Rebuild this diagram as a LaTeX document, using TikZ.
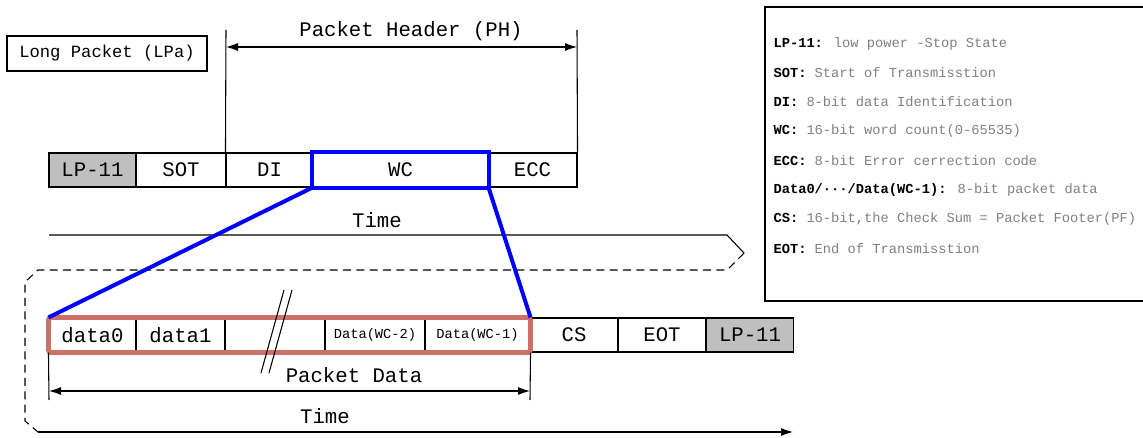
\documentclass[tikz,border=0pt]{standalone}
\usepackage{fontspec}
\setmainfont{Liberation Mono}
\usetikzlibrary{arrows.meta}
\newcommand{\pxu}{0.75pt}
\definecolor{pdred}{RGB}{204,112,104}
\definecolor{legendgray}{RGB}{128,128,128}
\begin{document}
\begin{tikzpicture}[x=0.75pt,y=-0.75pt,line width=0.8pt,
        every node/.style={font=\fontsize{15.5}{18}\selectfont},
        cell/.style={draw,inner sep=0pt,minimum height=34*\pxu},
        lpcell/.style={cell,fill=gray!50},
        small/.style={font=\fontsize{10.3}{12}\selectfont},
        bluebox/.style={draw=blue,line width=3pt},
        redbox/.style={draw=pdred,line width=3.6pt,rounded corners=2pt},
        tip/.style={-{Latex[length=9pt,width=6pt]}},
        dimarrow/.style={{Latex[length=9pt,width=6pt]}-{Latex[length=9pt,width=6pt]}},
        legend/.style={anchor=west,inner sep=0pt,small}]
    \useasboundingbox (0,0) rectangle (1143,438);

    % title box
    \node[draw,inner sep=0pt,minimum width=200*\pxu,minimum height=35*\pxu,font=\fontsize{12.9}{15}\selectfont] (lpa) at (107,53.5) {Long Packet (LPa)};

    % packet header row
    \node[lpcell,minimum width=87*\pxu] (lp1) at (92.5,170) {LP-11};
    \node[cell,minimum width=90*\pxu] (sot) at (181,170) {SOT};
    \node[cell,minimum width=87*\pxu] (di) at (269.5,170) {DI};
    \node[cell,minimum width=175*\pxu] (wc) at (400.5,170) {WC};
    \node[cell,minimum width=89*\pxu] (ecc) at (532.5,170) {ECC};

    \coordinate (phl) at (226,30);
    \coordinate (phr) at (577,30);
    \coordinate (pha) at (226,47);
    \coordinate (phb) at (577,47);
    \draw (phl) -- (di.north west);
    \draw (phr) -- (ecc.north east);
    \draw[dimarrow] (pha) -- (phb);
    \node (phlabel) at (411,31) {Packet Header (PH)};

    % time arrow
    \coordinate (t1) at (49,235);
    \coordinate (t2) at (727,235);
    \coordinate (t3) at (744,253);
    \coordinate (t4) at (727,270);
    \coordinate (t5) at (38,270);
    \coordinate (t6) at (25,282);
    \coordinate (t7) at (25,421);
    \coordinate (t8) at (38,432);
    \coordinate (t9) at (793,432);
    \draw (t1) -- (t2) -- (t3);
    \draw[dash pattern=on 6pt off 4pt] (t3) -- (t4) -- (t5) -- (t6) -- (t7) -- (t8);
    \draw[tip] (t8) -- (t9);
    \node (time1) at (377,220) {Time};
    \node (time2) at (325,416) {Time};

    % packet data row
    \node[cell,minimum width=87*\pxu] (d0) at (92.5,335) {data0};
    \node[cell,minimum width=89*\pxu] (d1) at (180.5,335) {data1};
    \node[cell,minimum width=100*\pxu] (dgap) at (275,335) {};
    \node[cell,minimum width=100*\pxu,small] (dwc2) at (375,335) {Data(WC-2)};
    \node[cell,minimum width=105*\pxu,small] (dwc1) at (477.5,335) {Data(WC-1)};
    \node[cell,minimum width=88*\pxu] (cs) at (574,335) {CS};
    \node[cell,minimum width=88*\pxu] (eot) at (662,335) {EOT};
    \node[lpcell,minimum width=87*\pxu] (lp2) at (750,335) {LP-11};

    \draw[redbox] (d0.north west) rectangle (dwc1.south east);

    % break mark
    \coordinate (b1a) at (284,290);
    \coordinate (b1b) at (261,373);
    \coordinate (b2a) at (292,290);
    \coordinate (b2b) at (269,373);
    \draw (b1a) -- (b1b);
    \draw (b2a) -- (b2b);

    % zoom lines
    \draw[bluebox] (wc.north west) rectangle (wc.south east);
    \draw[bluebox] (wc.south west) -- (d0.north west);
    \draw[bluebox] (wc.south east) -- (dwc1.north east);

    % packet data span
    \coordinate (pdl) at (49,400);
    \coordinate (pdr) at (530,400);
    \coordinate (pda) at (49,391);
    \coordinate (pdb) at (530,391);
    \draw (d0.south west) -- (pdl);
    \draw (dwc1.south east) -- (pdr);
    \draw[dimarrow] (pda) -- (pdb);
    \node (pdlabel) at (354,375) {Packet Data};

    % legend
    \draw (765,7) rectangle (1150,301);
    \node[legend] (k1) at (773,44) {\textbf{LP-11:} \textcolor{legendgray}{low power -Stop State}};
    \node[legend] (k2) at (773,73) {\textbf{SOT:} \textcolor{legendgray}{Start of Transmisstion}};
    \node[legend] (k3) at (773,102) {\textbf{DI:} \textcolor{legendgray}{8-bit data Identification}};
    \node[legend] (k4) at (773,131) {\textbf{WC:} \textcolor{legendgray}{16-bit word count(0-65535)}};
    \node[legend] (k5) at (773,161) {\textbf{ECC:} \textcolor{legendgray}{8-bit Error cerrection code}};
    \node[legend] (k6) at (773,190) {\textbf{Data0/···/Data(WC-1):} \textcolor{legendgray}{8-bit packet data}};
    \node[legend] (k7) at (773,219) {\textbf{CS:} \textcolor{legendgray}{16-bit,the Check Sum = Packet Footer(PF)}};
    \node[legend] (k8) at (773,249) {\textbf{EOT:} \textcolor{legendgray}{End of Transmisstion}};
\end{tikzpicture}
\end{document}
